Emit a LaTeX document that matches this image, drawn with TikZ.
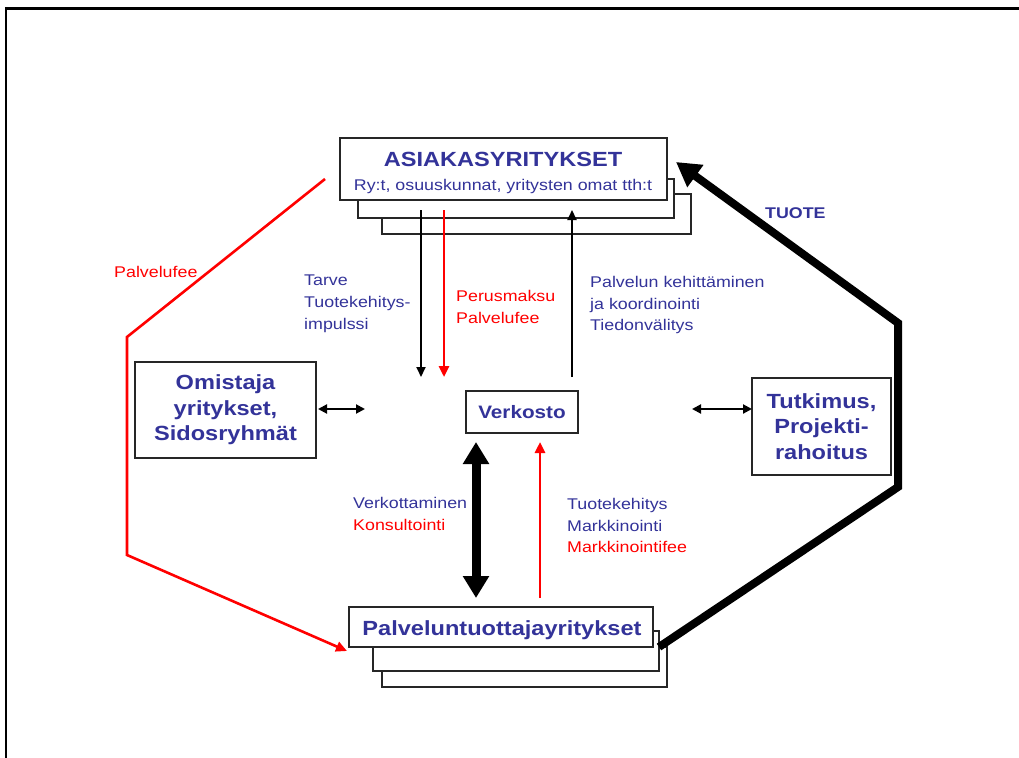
\documentclass[tikz,border=0pt]{standalone}
\usepackage{fontspec}
\setmainfont{Liberation Sans}[FakeStretch=1.15]
\usetikzlibrary{arrows.meta}
\definecolor{txtblue}{RGB}{51,51,153}
\definecolor{feered}{RGB}{255,0,0}

\begin{document}
\begin{tikzpicture}[x=1pt,y=-1pt,
  box/.style={draw=black!85, line width=1.3pt, fill=white, inner sep=0pt},
  bigtxt/.style={font=\bfseries\fontsize{20.5}{25.5}\selectfont, text=txtblue, align=center},
  smalltxt/.style={font=\fontsize{15.5}{21.7}\selectfont, text=txtblue, align=left, inner sep=0pt, anchor=base west},
  thinarr/.style={line width=2pt, draw=black, -{Triangle[width=9pt,length=10pt]}},
  redarr/.style={line width=2.6pt, draw=feered, -{Triangle[width=10pt,length=11pt]}},
  dblarr/.style={line width=2pt, draw=black, {Triangle[width=9pt,length=9pt]}-{Triangle[width=9pt,length=9pt]}},
  fatdbl/.style={line width=9pt, draw=black, {Triangle[width=25pt,length=22pt]}-{Triangle[width=25pt,length=22pt]}},
  fatarr/.style={line width=8pt, draw=black, line join=miter, -{Triangle[width=26pt,length=24pt]}},
  feeline/.style={line width=2.6pt, draw=feered, line join=miter, -{Triangle[width=10pt,length=11pt]}}
]
\useasboundingbox (0,0) rectangle (1019,757);

% page frame, cut by the edge of the picture
\begin{scope}
  \clip (0,0) rectangle (1019,757);
  \draw[line width=2.2pt, line join=miter] (1040,8.6) -- (6.3,8.6) -- (6.3,780);
\end{scope}

% customer companies: stacked boxes
\node[box, minimum width=309pt, minimum height=40pt] (asiak3) at (536.5,214) {};
\node[box, minimum width=316pt, minimum height=39pt] (asiak2) at (516,198.5) {};
\node[box, minimum width=327pt, minimum height=62pt] (asiak) at (503.5,169) {};
\node[font=\bfseries\fontsize{20.5}{24}\selectfont, text=txtblue, anchor=base, inner sep=0pt] (asiakT) at (503,166.7) {ASIAKASYRITYKSET};
\node[font=\fontsize{15.5}{20}\selectfont, text=txtblue, anchor=base, inner sep=0pt] (asiakS) at (503,190) {Ry:t, osuuskunnat, yritysten omat tth:t};

% service provider companies: stacked boxes
\node[box, minimum width=285pt, minimum height=40pt] (palv3) at (524.5,667) {};
\node[box, minimum width=286pt, minimum height=40pt] (palv2) at (516,651) {};
\node[box, minimum width=304pt, minimum height=40pt] (palv) at (501,627) {};
\node[font=\bfseries\fontsize{20.5}{24}\selectfont, text=txtblue, anchor=base, inner sep=0pt] (palvT) at (502,635) {Palveluntuottajayritykset};

% side boxes and the network
\node[box, bigtxt, minimum width=181pt, minimum height=96pt] (omist) at (225.5,410) {Omistaja\\yritykset,\\Sidosryhmät};
\node[box, bigtxt, minimum width=139pt, minimum height=97pt] (tutk) at (821.5,426.5) {Tutkimus,\\Projekti-\\rahoitus};
\node[box, font=\bfseries\fontsize{18}{22}\selectfont, text=txtblue, minimum width=112pt, minimum height=42pt] (verk) at (522,412) {Verkosto};

% end points of the flows
\coordinate (tarveA) at (421,210);
\coordinate (tarveB) at (421,377);
\coordinate (perusA) at (444,210);
\coordinate (perusB) at (444,377);
\coordinate (kehA) at (572,377);
\coordinate (kehB) at (572,210);
\coordinate (omL) at (318,409);
\coordinate (omR) at (365,409);
\coordinate (tuL) at (692,409);
\coordinate (tuR) at (752,409);
\coordinate (verkA) at (476,442);
\coordinate (verkB) at (476,598);
\coordinate (markA) at (540,598);
\coordinate (markB) at (540,442);
\coordinate (feeA) at (325,179);
\coordinate (feeB) at (127,337);
\coordinate (feeC) at (127,555);
\coordinate (feeD) at (347,651);
\coordinate (tuoA) at (659,647);
\coordinate (tuoB) at (898,487);
\coordinate (tuoC) at (898,323);
\coordinate (tuoD) at (676,162);

% flows between customers and the network
\draw[thinarr] (tarveA) -- (tarveB);
\draw[redarr] (perusA) -- (perusB);
\draw[thinarr] (kehA) -- (kehB);

% side links
\draw[dblarr] (omL) -- (omR);
\draw[dblarr] (tuL) -- (tuR);

% flows between the network and the providers
\draw[fatdbl] (verkA) -- (verkB);
\draw[redarr] (markA) -- (markB);

% fee route and product route round the outside
\draw[feeline] (feeA) -- (feeB) -- (feeC) -- (feeD);
\draw[fatarr] (tuoA) -- (tuoB) -- (tuoC) -- (tuoD);

% labels (anchored at the baseline of their last line)
\node[smalltxt] (lTarve) at (304,329.3) {Tarve\\Tuotekehitys-\\impulssi};
\node[smalltxt, text=feered] (lPerus) at (456,323.3) {Perusmaksu\\Palvelufee};
\node[smalltxt] (lKeh) at (590,330.7) {Palvelun kehittäminen\\ja koordinointi\\Tiedonvälitys};
\node[smalltxt] (lVerk) at (353,530) {Verkottaminen\\\textcolor{feered}{Konsultointi}};
\node[smalltxt] (lMark) at (567,552.7) {Tuotekehitys\\Markkinointi\\\textcolor{feered}{Markkinointifee}};
\node[smalltxt, text=feered] (lFee) at (114,277) {Palvelufee};
\node[smalltxt, font=\bfseries\fontsize{15.5}{20}\selectfont] (lTuote) at (765,218.3) {TUOTE};

\end{tikzpicture}
\end{document}
